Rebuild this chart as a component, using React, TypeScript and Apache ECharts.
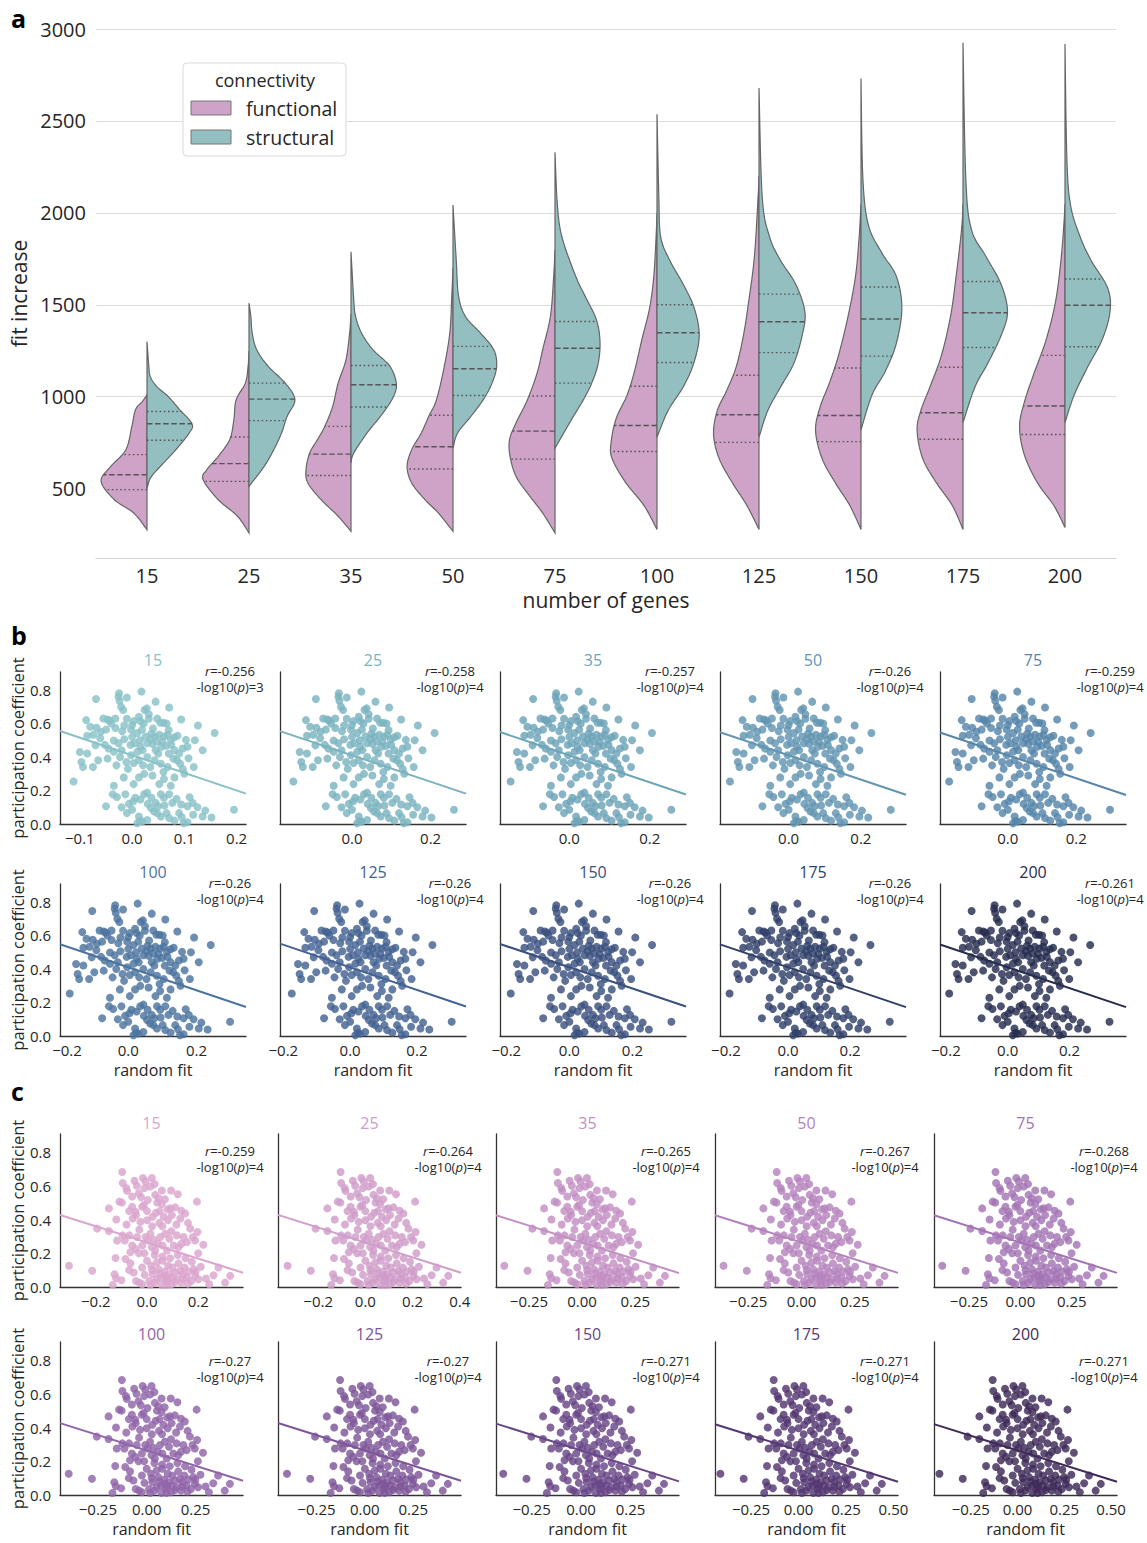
import { useEffect, useRef } from 'react';
import * as echarts from 'echarts';

const FONT = "'Open Sans', 'DejaVu Sans', sans-serif";
const INK = '#262626';
const PINK = '#cfa2c7';
const TEAL = '#94bfc1';

// ---------- panel a: split violins ----------
const geneCounts = ['15', '25', '35', '50', '75', '100', '125', '150', '175', '200'];
const fitTicks = [500, 1000, 1500, 2000, 2500, 3000];

// outline of each half: [fit increase, half-width as a share of the widest point]
const functionalProfiles = [
  [[277, 0], [368, 0.29], [440, 0.71], [540, 1], [621, 0.79], [712, 0.46], [839, 0.33], [930, 0.25], [975, 0.1], [1010, 0]],
  [[259, 0], [350, 0.25], [440, 0.67], [549, 1], [603, 0.92], [676, 0.67], [767, 0.42], [875, 0.33], [984, 0.28], [1074, 0.08], [1165, 0.02], [1250, 0]],
  [[268, 0], [350, 0.28], [440, 0.65], [531, 0.94], [603, 0.98], [694, 0.9], [767, 0.73], [839, 0.57], [947, 0.4], [1074, 0.28], [1201, 0.11], [1346, 0.03], [1450, 0]],
  [[268, 0], [368, 0.32], [440, 0.61], [531, 0.9], [621, 1], [712, 0.9], [803, 0.69], [893, 0.53], [984, 0.36], [1165, 0.19], [1346, 0.07], [1527, 0.03], [1700, 0]],
  [[259, 0], [368, 0.27], [476, 0.6], [567, 0.85], [676, 0.98], [767, 0.99], [857, 0.85], [984, 0.6], [1129, 0.39], [1255, 0.27], [1437, 0.1], [1650, 0.03], [1800, 0]],
  [[278, 0], [407, 0.28], [536, 0.69], [665, 0.98], [752, 1], [881, 0.89], [1010, 0.65], [1139, 0.49], [1311, 0.33], [1483, 0.16], [1655, 0.07], [1870, 0.02], [2000, 0]],
  [[278, 0], [407, 0.26], [536, 0.59], [665, 0.87], [795, 0.99], [924, 0.91], [1031, 0.71], [1160, 0.5], [1333, 0.34], [1526, 0.22], [1763, 0.1], [2086, 0.02], [2200, 0]],
  [[278, 0], [407, 0.24], [536, 0.57], [665, 0.85], [816, 0.99], [945, 0.89], [1074, 0.69], [1225, 0.49], [1440, 0.28], [1655, 0.12], [1870, 0.04], [2050, 0]],
  [[278, 0], [407, 0.23], [536, 0.59], [665, 0.88], [816, 1], [924, 0.92], [1053, 0.72], [1225, 0.47], [1440, 0.27], [1655, 0.15], [1913, 0.03], [2050, 0]],
  [[289, 0], [407, 0.24], [536, 0.61], [687, 0.89], [838, 0.99], [967, 0.89], [1117, 0.69], [1311, 0.41], [1526, 0.2], [1763, 0.08], [1956, 0.02], [2050, 0]],
];
const structuralProfiles = [
  [[500, 0], [560, 0.08], [621, 0.29], [712, 0.63], [803, 0.92], [853, 0.98], [930, 0.71], [1002, 0.46], [1056, 0.21], [1110, 0.07], [1165, 0.04], [1300, 0]],
  [[513, 0], [621, 0.33], [712, 0.54], [803, 0.71], [893, 0.83], [984, 1], [1074, 0.79], [1165, 0.42], [1255, 0.17], [1346, 0.07], [1437, 0.04], [1509, 0]],
  [[640, 0], [694, 0.06], [803, 0.35], [893, 0.64], [984, 0.89], [1065, 0.99], [1165, 0.85], [1255, 0.48], [1346, 0.23], [1437, 0.1], [1527, 0.06], [1788, 0]],
  [[720, 0], [803, 0.1], [893, 0.39], [984, 0.66], [1074, 0.85], [1165, 0.95], [1255, 0.89], [1346, 0.6], [1437, 0.27], [1550, 0.12], [1745, 0.07], [2043, 0]],
  [[720, 0], [803, 0.19], [893, 0.4], [984, 0.62], [1074, 0.8], [1180, 0.94], [1300, 0.98], [1420, 0.9], [1550, 0.65], [1656, 0.45], [1870, 0.15], [2050, 0.05], [2330, 0]],
  [[780, 0], [924, 0.24], [1053, 0.57], [1182, 0.8], [1333, 0.92], [1483, 0.81], [1612, 0.57], [1741, 0.28], [1870, 0.08], [2086, 0.04], [2537, 0]],
  [[780, 0], [924, 0.19], [1053, 0.47], [1182, 0.76], [1333, 0.94], [1462, 1], [1612, 0.8], [1741, 0.47], [1870, 0.23], [2086, 0.07], [2679, 0]],
  [[820, 0], [1010, 0.24], [1139, 0.53], [1290, 0.77], [1483, 0.89], [1655, 0.77], [1784, 0.45], [1935, 0.16], [2193, 0.04], [2731, 0]],
  [[860, 0], [1053, 0.26], [1182, 0.54], [1333, 0.83], [1462, 0.97], [1612, 0.83], [1763, 0.5], [1913, 0.18], [2193, 0.06], [2925, 0]],
  [[860, 0], [1010, 0.2], [1160, 0.49], [1311, 0.81], [1462, 0.98], [1591, 0.93], [1741, 0.57], [1870, 0.33], [2043, 0.12], [2301, 0.04], [2918, 0]],
];
// [lower quartile, median, upper quartile]
const functionalQuartiles = [
  [495, 576, 685], [540, 636, 781], [572, 688, 839], [607, 728, 899], [661, 813, 1004],
  [702, 844, 1057], [752, 902, 1117], [756, 898, 1156], [769, 913, 1160], [795, 950, 1225],
];
const structuralQuartiles = [
  [763, 853, 920], [870, 987, 1074], [944, 1065, 1170], [1007, 1152, 1274], [1074, 1264, 1409],
  [1186, 1348, 1500], [1240, 1408, 1558], [1221, 1423, 1597], [1268, 1457, 1627], [1272, 1498, 1640],
];

// ---------- panel b: structural participation coefficient vs random fit ----------
// [random fit (15-gene scale), participation coefficient]
const bPoints = [
  [-0.025, 0.78], [0.018, 0.79], [-0.069, 0.746], [-0.026, 0.76], [-0.01, 0.755], [0.045, 0.73], [0.071, 0.695], [-0.024, 0.735], [-0.021, 0.7], [-0.017, 0.68],
  [0.024, 0.68], [0.028, 0.69], [0.032, 0.655], [0.094, 0.624], [-0.088, 0.62], [-0.055, 0.63], [-0.047, 0.624], [-0.043, 0.618], [-0.032, 0.63], [-0.01, 0.628],
  [0.003, 0.614], [0.013, 0.64], [0.016, 0.614], [0.032, 0.628], [0.048, 0.63], [0.054, 0.604], [0.06, 0.604], [0.066, 0.6], [0.126, 0.588], [0.158, 0.543],
  [-0.068, 0.574], [-0.05, 0.563], [-0.032, 0.573], [-0.019, 0.553], [-0.015, 0.588], [-0.002, 0.563], [0.01, 0.543], [0.019, 0.563], [0.026, 0.522], [0.037, 0.539],
  [0.043, 0.522], [0.052, 0.533], [0.061, 0.522], [0.068, 0.533], [0.074, 0.502], [0.081, 0.518], [0.087, 0.527], [0.103, 0.502], [-0.086, 0.527], [-0.074, 0.533],
  [-0.061, 0.512], [-0.035, 0.498], [-0.026, 0.482], [-0.015, 0.506], [-0.003, 0.472], [0.005, 0.482], [0.016, 0.461], [0.029, 0.482], [0.039, 0.478], [0.048, 0.492],
  [0.056, 0.461], [0.065, 0.466], [0.075, 0.472], [0.081, 0.441], [0.097, 0.451], [0.106, 0.461], [-0.052, 0.472], [-0.086, 0.421], [-0.097, 0.37], [-0.094, 0.34],
  [-0.075, 0.34], [-0.065, 0.38], [-0.047, 0.39], [-0.035, 0.431], [-0.023, 0.4], [-0.011, 0.37], [-0.002, 0.41], [0.003, 0.364], [0.013, 0.38], [0.021, 0.35],
  [0.029, 0.4], [0.035, 0.34], [0.043, 0.38], [0.05, 0.421], [0.055, 0.36], [0.068, 0.34], [0.079, 0.39], [0.086, 0.38], [0.092, 0.36], [0.097, 0.329],
  [0.01, 0.431], [-0.008, 0.329], [0.108, 0.392], [0.118, 0.34], [-0.112, 0.254], [-0.035, 0.228], [-0.016, 0.278], [0.003, 0.238], [0.013, 0.278], [0.023, 0.299],
  [0.039, 0.289], [0.052, 0.238], [0.061, 0.268], [0.074, 0.228], [0.081, 0.278], [-0.037, 0.177], [-0.029, 0.161], [-0.05, 0.106], [-0.013, 0.177], [-0.006, 0.12],
  [0.002, 0.135], [0.006, 0.157], [0.016, 0.146], [0.023, 0.177], [0.029, 0.187], [0.037, 0.157], [0.045, 0.126], [0.05, 0.106], [0.055, 0.177], [0.061, 0.157],
  [0.071, 0.177], [0.077, 0.126], [0.094, 0.116], [0.106, 0.106], [0.116, 0.126], [-0.01, 0.065], [0.0, 0.085], [0.013, 0.045], [0.019, 0.014], [0.029, 0.024],
  [0.042, 0.075], [0.048, 0.065], [0.055, 0.045], [0.066, 0.065], [0.071, 0.035], [0.081, 0.02], [0.09, 0.065], [0.099, 0.004], [0.106, 0.01], [0.117, 0.055],
  [0.135, 0.045], [0.152, 0.039], [0.195, 0.085], [0.01, 0.004], [0.015, 0.018],
  [-0.04, 0.6], [0.0, 0.59], [0.022, 0.6], [0.04, 0.57], [0.07, 0.56], [-0.06, 0.55], [0.0, 0.52], [0.015, 0.5], [0.035, 0.505], [0.058, 0.49],
  [-0.045, 0.45], [-0.02, 0.44], [0.02, 0.44], [0.045, 0.44], [0.07, 0.42], [0.09, 0.42], [-0.03, 0.35], [0.06, 0.31], [0.1, 0.3], [0.03, 0.12],
  [0.062, 0.11], [0.085, 0.15], [0.11, 0.16], [-0.02, 0.1], [0.036, 0.095], [0.095, 0.04], [0.125, 0.1], [0.14, 0.08], [-0.07, 0.47], [-0.1, 0.43],
  [0.12, 0.5], [0.135, 0.44], [-0.08, 0.58],
];
// spread of the random fit for each gene count, relative to 15 genes
const bFitScale = [1, 1.33, 1.3, 1.45, 1.53, 1.53, 1.56, 1.66, 1.68, 1.69];
const bXRange = [
  [-0.138, 0.218], [-0.183, 0.29], [-0.172, 0.29], [-0.19, 0.325], [-0.198, 0.345],
  [-0.2, 0.345], [-0.21, 0.347], [-0.22, 0.37], [-0.219, 0.38], [-0.219, 0.383],
];
const bXTicks = [
  [-0.1, 0, 0.1, 0.2], [0, 0.2], [0, 0.2], [0, 0.2], [0, 0.2],
  [-0.2, 0, 0.2], [-0.2, 0, 0.2], [-0.2, 0, 0.2], [-0.2, 0, 0.2], [-0.2, 0, 0.2],
];
const bR = [-0.256, -0.258, -0.257, -0.26, -0.259, -0.26, -0.26, -0.26, -0.26, -0.261];
const bLogP = [3, 4, 4, 4, 4, 4, 4, 4, 4, 4];
const bFitLine = [0.41, -1.05]; // intercept, slope at the 15-gene scale
const bColors = ['#88c1c7', '#7ab3bf', '#6ca4b8', '#6195b1', '#5685a9', '#4c749f', '#436291', '#3a507f', '#303f69', '#262c4e'];

// ---------- panel c: functional participation coefficient vs random fit ----------
const cPoints = [
  [-0.097, 0.682], [-0.095, 0.616], [-0.081, 0.586], [-0.078, 0.57], [-0.049, 0.63], [-0.016, 0.646], [-0.006, 0.626], [0.019, 0.646], [-0.01, 0.586], [0.013, 0.596],
  [0.032, 0.546], [0.058, 0.572], [0.094, 0.572], [-0.108, 0.506], [-0.098, 0.5], [-0.058, 0.536], [-0.032, 0.556], [-0.023, 0.532], [0.003, 0.516], [0.045, 0.526],
  [0.195, 0.506], [-0.149, 0.466], [-0.058, 0.476], [-0.045, 0.446], [-0.019, 0.476], [-0.012, 0.486], [0.04, 0.5], [0.058, 0.492], [0.091, 0.466], [0.11, 0.472],
  [0.134, 0.452], [-0.056, 0.406], [-0.043, 0.426], [-0.026, 0.386], [0, 0.396], [0.022, 0.416], [0.035, 0.44], [0.048, 0.38], [0.065, 0.416], [0.082, 0.396],
  [0.097, 0.426], [0.13, 0.406], [0.149, 0.436], [-0.305, 0.126], [-0.214, 0.096], [-0.195, 0.346], [-0.149, 0.332], [-0.123, 0.172], [-0.117, 0.276], [-0.095, 0.306],
  [-0.087, 0.276], [-0.069, 0.306], [-0.058, 0.246], [-0.039, 0.296], [-0.065, 0.206], [-0.045, 0.226], [-0.032, 0.2], [-0.019, 0.246], [-0.006, 0.296], [0.004, 0.276],
  [0.013, 0.316], [0.019, 0.236], [0.026, 0.28], [0.032, 0.216], [0.043, 0.256], [0.052, 0.296], [0.061, 0.246], [0.071, 0.316], [0.078, 0.216], [0.087, 0.286],
  [0.104, 0.246], [0.117, 0.306], [0.123, 0.236], [0.134, 0.256], [0.143, 0.296], [0.156, 0.266], [0.169, 0.346], [0.179, 0.296], [0.188, 0.276], [0.197, 0.326],
  [-0.127, 0.076], [-0.121, 0.052], [-0.134, 0.012], [-0.084, 0.166], [-0.065, 0.14], [-0.052, 0.086], [-0.043, 0.036], [-0.03, 0.026], [-0.019, 0.116], [-0.009, 0.072],
  [0, 0.156], [0.009, 0.036], [0.017, 0.126], [0.022, 0.076], [0.03, 0.026], [0.039, 0.146], [0.045, 0.106], [0.055, 0.056], [0.061, 0.156], [0.069, 0.092],
  [0.074, 0.036], [0.082, 0.126], [0.087, 0.076], [0.095, 0.016], [0.1, 0.116], [0.11, 0.086], [0.117, 0.046], [0.123, 0.14], [0.13, 0.096], [0.134, 0.026],
  [0.139, 0.076], [0.147, 0.116], [0.156, 0.056], [0.162, 0.092], [0.173, 0.036], [0.182, 0.106], [0.188, 0.066], [0.201, 0.046], [0.243, 0.016], [0.305, 0.026],
  [0.279, 0.116], [0.325, 0.066], [-0.019, 0.016], [0.058, 0.012], [0.078, 0.012], [0.097, 0.056], [0.013, 0.012], [0.039, 0.046], [0.071, 0.066],
  [0.02, 0.1], [0.05, 0.08], [0.08, 0.05], [0.11, 0.03], [0.14, 0.05], [0.16, 0.02], [0.19, 0.09], [0.21, 0.12], [0.06, 0.18], [0.09, 0.17],
  [0.12, 0.19], [0.15, 0.17], [0.175, 0.15], [-0.01, 0.2], [0.03, 0.19], [-0.07, 0.1], [-0.1, 0.04], [0.2, 0.2], [0.22, 0.25], [0.095, 0.33],
  [0.06, 0.36], [0.02, 0.36], [-0.03, 0.34], [-0.08, 0.37], [-0.12, 0.4], [0.115, 0.37], [0.16, 0.38], [0.08, 0.46], [0.05, 0.45], [0.0, 0.45],
  [-0.07, 0.45], [-0.04, 0.6], [0.03, 0.61], [0.07, 0.52], [0.12, 0.55], [0.26, 0.07], [0.23, 0.05],
];
const cFitScale = [1, 1.08, 1.2, 1.2, 1.245, 1.31, 1.32, 1.29, 1.35, 1.37];
const cXRange = [
  [-0.34, 0.375], [-0.37, 0.405], [-0.405, 0.456], [-0.406, 0.453], [-0.42, 0.47],
  [-0.444, 0.493], [-0.449, 0.497], [-0.43, 0.495], [-0.44, 0.524], [-0.447, 0.532],
];
const cXTicks = [
  [-0.2, 0, 0.2], [-0.2, 0, 0.2, 0.4], [-0.25, 0, 0.25], [-0.25, 0, 0.25], [-0.25, 0, 0.25],
  [-0.25, 0, 0.25], [-0.25, 0, 0.25], [-0.25, 0, 0.25], [-0.25, 0, 0.25, 0.5], [-0.25, 0, 0.25, 0.5],
];
const cR = [-0.259, -0.264, -0.265, -0.267, -0.268, -0.27, -0.27, -0.271, -0.271, -0.271];
const cLogP = [4, 4, 4, 4, 4, 4, 4, 4, 4, 4];
const cFitLine = [0.264, -0.478];
const cColors = ['#daa5cd', '#d09cc9', '#c38fc3', '#b482bd', '#a374b5', '#9064a8', '#7c5599', '#684687', '#533772', '#3e2958'];

const coefTicks = [0, 0.2, 0.4, 0.6, 0.8];

// Catmull-Rom pass through [y, width] pixel pairs so the violin edge is a smooth curve
function smoothEdge(pts: number[][], steps: number): number[][] {
  const out: number[][] = [];
  const n = pts.length;
  for (let i = 0; i < n - 1; i++) {
    const p0 = pts[Math.max(0, i - 1)], p1 = pts[i], p2 = pts[i + 1], p3 = pts[Math.min(n - 1, i + 2)];
    for (let s = 0; s < steps; s++) {
      const t = s / steps, t2 = t * t, t3 = t2 * t;
      const f = (a: number, b: number, c: number, d: number) =>
        0.5 * (2 * b + (-a + c) * t + (2 * a - 5 * b + 4 * c - d) * t2 + (-a + 3 * b - 3 * c + d) * t3);
      out.push([f(p0[0], p1[0], p2[0], p3[0]), Math.max(0, f(p0[1], p1[1], p2[1], p3[1]))]);
    }
  }
  out.push(pts[n - 1]);
  return out;
}

function widthAt(curve: number[][], y: number): number {
  for (let j = 0; j < curve.length - 1; j++) {
    const [y0, w0] = curve[j];
    const [y1, w1] = curve[j + 1];
    if ((y0 - y) * (y1 - y) <= 0 && y0 !== y1) return w0 + ((w1 - w0) * (y - y0)) / (y1 - y0);
  }
  return 0;
}

function violinSeries(name: string, profiles: number[][][], quartiles: number[][], color: string, dir: number) {
  return {
    type: 'custom',
    name,
    xAxisIndex: 0,
    yAxisIndex: 0,
    data: geneCounts.map((_, i) => [i, quartiles[i][1]]),
    encode: { x: 0, y: 1 },
    itemStyle: { color },
    silent: true,
    renderItem: (_params: any, api: any) => {
      const i = api.value(0);
      const cx = api.coord([i, 1000])[0];
      const maxW = api.size([1, 0])[0] * 0.45;
      const curve = smoothEdge(profiles[i].map(([v, w]) => [api.coord([i, v])[1], w * maxW]), 10);
      const edge = curve.map(([y, w]) => [cx + dir * w, y]);
      const yLow = curve[0][0];
      const yHigh = curve[curve.length - 1][0];
      const children: any[] = [
        {
          type: 'polygon',
          shape: { points: [...edge, [cx, yHigh], [cx, yLow]] },
          style: { fill: color, stroke: '#666666', lineWidth: 1.2 },
        },
      ];
      quartiles[i].forEach((q, k) => {
        const y = api.coord([i, q])[1];
        const w = widthAt(curve, y);
        children.push({
          type: 'line',
          shape: { x1: cx, y1: y, x2: cx + dir * w, y2: y },
          style: { stroke: '#555555', lineWidth: 1.4, lineDash: k === 1 ? [5.5, 2.6] : [1.6, 2.6] },
        });
      });
      return { type: 'group', children };
    },
  };
}

function fmt(v: number, d: number) {
  return (v < 0 ? '\u2212' : '') + Math.abs(v).toFixed(d);
}

function buildOption() {
  const grid: any[] = [];
  const xAxis: any[] = [];
  const yAxis: any[] = [];
  const series: any[] = [];
  const graphic: any[] = [];

  // panel a
  grid.push({ left: 96, top: 29, width: 1020, height: 529, outerBoundsMode: 'none' });
  xAxis.push({
    type: 'category',
    gridIndex: 0,
    data: geneCounts,
    boundaryGap: true,
    axisLine: { show: true, lineStyle: { color: '#d4d4d4', width: 1.2 } },
    axisTick: { show: false },
    axisLabel: { color: INK, fontSize: 20, margin: 7, fontFamily: FONT },
    splitLine: { show: false },
    name: 'number of genes',
    nameLocation: 'middle',
    nameGap: 31,
    nameTextStyle: { color: INK, fontSize: 21, fontFamily: FONT },
  });
  yAxis.push({
    type: 'value',
    gridIndex: 0,
    min: 123,
    max: 3000,
    axisLine: { show: false },
    axisTick: { show: false, customValues: fitTicks },
    axisLabel: { color: INK, fontSize: 20, margin: 10, fontFamily: FONT, customValues: fitTicks, formatter: (v: number) => String(Math.round(v)) },
    splitLine: { show: true, showMinLine: false, lineStyle: { color: '#dcdcdc', width: 1 } },
    name: 'fit increase',
    nameLocation: 'middle',
    nameGap: 46,
    nameTextStyle: { color: INK, fontSize: 21, fontFamily: FONT },
  });
  series.push(violinSeries('functional', functionalProfiles, functionalQuartiles, PINK, -1));
  series.push(violinSeries('structural', structuralProfiles, structuralQuartiles, TEAL, 1));

  // legend box for panel a
  graphic.push(
    { type: 'rect', x: 183, y: 63, shape: { width: 163, height: 93, r: 4 }, style: { fill: '#ffffff', stroke: '#dadada', lineWidth: 1 }, z: 50 },
    { type: 'text', x: 265, y: 80, style: { text: 'connectivity', fill: INK, fontSize: 18, fontFamily: FONT, align: 'center', verticalAlign: 'middle' }, z: 51 },
    { type: 'rect', x: 191, y: 101, shape: { width: 40, height: 14 }, style: { fill: PINK, stroke: '#777777', lineWidth: 1 }, z: 51 },
    { type: 'text', x: 246, y: 108, style: { text: 'functional', fill: INK, fontSize: 19.5, fontFamily: FONT, align: 'left', verticalAlign: 'middle' }, z: 51 },
    { type: 'rect', x: 191, y: 130, shape: { width: 40, height: 14 }, style: { fill: TEAL, stroke: '#777777', lineWidth: 1 }, z: 51 },
    { type: 'text', x: 246, y: 137, style: { text: 'structural', fill: INK, fontSize: 19.5, fontFamily: FONT, align: 'left', verticalAlign: 'middle' }, z: 51 },
  );

  // panel letters
  [['a', 18], ['b', 635], ['c', 1091]].forEach(([t, y]) => {
    graphic.push({ type: 'text', x: 11, y: y as number, style: { text: t as string, fill: '#000', fontSize: 25, fontWeight: 'bold', fontFamily: FONT, align: 'left', verticalAlign: 'middle' } });
  });

  const panels = [
    {
      points: bPoints, scale: bFitScale, ranges: bXRange, ticks: bXTicks, r: bR, logp: bLogP, line: bFitLine, colors: bColors,
      lefts: [60, 280, 500, 720, 940], width: 186, height: 152,
      rows: [{ bottom: 824, titleY: 660, statY: 663 }, { bottom: 1036, titleY: 872, statY: 875 }],
    },
    {
      points: cPoints, scale: cFitScale, ranges: cXRange, ticks: cXTicks, r: cR, logp: cLogP, line: cFitLine, colors: cColors,
      lefts: [60, 278, 496, 715, 934], width: 183, height: 153,
      rows: [{ bottom: 1287, titleY: 1123, statY: 1143 }, { bottom: 1495, titleY: 1334, statY: 1353 }],
    },
  ];

  panels.forEach((p) => {
    for (let k = 0; k < 10; k++) {
      const row = Math.floor(k / 5);
      const col = k % 5;
      const g = grid.length;
      const left = p.lefts[col];
      const { bottom, titleY, statY } = p.rows[row];
      const color = p.colors[k];
      const [lo, hi] = p.ranges[k];
      const s = p.scale[k];
      const ticks = p.ticks[k];
      const dec = ticks.some((t) => Math.abs(Math.round(t * 100) % 10) !== 0) ? 2 : 1;
      // a tick sitting right on the y axis is nudged off the y-axis labels
      const edgeTick = col === 0 && Math.abs(ticks[0] - lo) < 1e-9;

      grid.push({ left, top: bottom - p.height, width: p.width, height: p.height, outerBoundsMode: 'none' });
      xAxis.push({
        type: 'value',
        gridIndex: g,
        min: lo,
        max: hi,
        axisLine: { show: true, onZero: false, lineStyle: { color: '#333333', width: 1.3 } },
        axisTick: { show: false, customValues: ticks },
        splitLine: { show: false },
        axisLabel: {
          color: INK,
          fontSize: 15,
          margin: 6,
          fontFamily: FONT,
          customValues: ticks,
          formatter: (v: number) => (edgeTick && Math.abs(v - lo) < 1e-9 ? `{e|${fmt(v, dec)}}` : fmt(v, dec)),
          rich: { e: { padding: [0, 0, 0, 14], fontSize: 15, fontFamily: FONT, color: INK } },
        },
        name: row === 1 ? 'random fit' : '',
        nameLocation: 'middle',
        nameGap: 26,
        nameTextStyle: { color: INK, fontSize: 16, fontFamily: FONT },
      });
      yAxis.push({
        type: 'value',
        gridIndex: g,
        min: 0,
        max: 0.907,
        axisLine: { show: true, onZero: false, lineStyle: { color: '#333333', width: 1.3 } },
        axisTick: { show: false, customValues: coefTicks },
        splitLine: { show: false },
        axisLabel: { show: col === 0, color: INK, fontSize: 15, margin: 9, fontFamily: FONT, customValues: coefTicks, formatter: (v: number) => v.toFixed(1) },
        name: col === 0 ? 'participation coefficient' : '',
        nameLocation: 'middle',
        nameGap: 31,
        nameTextStyle: { color: INK, fontSize: 16.5, fontFamily: FONT },
      });
      series.push({
        type: 'scatter',
        xAxisIndex: g,
        yAxisIndex: g,
        data: p.points.map(([x, y]) => [x * s, y]),
        symbolSize: 8,
        itemStyle: { color, opacity: 0.82 },
        silent: true,
      });
      const slope = p.line[1] / s;
      series.push({
        type: 'line',
        xAxisIndex: g,
        yAxisIndex: g,
        data: [[lo, p.line[0] + slope * lo], [hi, p.line[0] + slope * hi]],
        symbol: 'none',
        lineStyle: { color, width: 2 },
        silent: true,
        z: 3,
      });
      graphic.push({
        type: 'text',
        x: left + p.width / 2,
        y: titleY,
        style: { text: geneCounts[k], fill: color, fontSize: 16, fontFamily: FONT, align: 'center', verticalAlign: 'middle' },
      });
      graphic.push({
        type: 'text',
        x: left + 170,
        y: statY,
        style: {
          text: `{i|r}=${p.r[k]}\n-log10({i|p})=${p.logp[k]}`,
          rich: { i: { fontStyle: 'italic', fontSize: 13, fontFamily: FONT, fill: INK } },
          fill: INK,
          fontSize: 13,
          lineHeight: 16,
          fontFamily: FONT,
          align: 'center',
          verticalAlign: 'top',
        },
      });
    }
  });

  return {
    animation: false,
    backgroundColor: '#ffffff',
    textStyle: { fontFamily: FONT },
    grid,
    xAxis,
    yAxis,
    series,
    graphic,
  };
}

export default function App() {
  const ref = useRef<HTMLDivElement>(null);
  useEffect(() => {
    if (!ref.current) return;
    const chart = echarts.init(ref.current, undefined, { renderer: 'svg' });
    chart.setOption(buildOption() as any);
    return () => chart.dispose();
  }, []);
  return <div ref={ref} style={{ position: 'fixed', left: 0, top: 0, width: 1147, height: 1543, background: '#fff' }} />;
}
